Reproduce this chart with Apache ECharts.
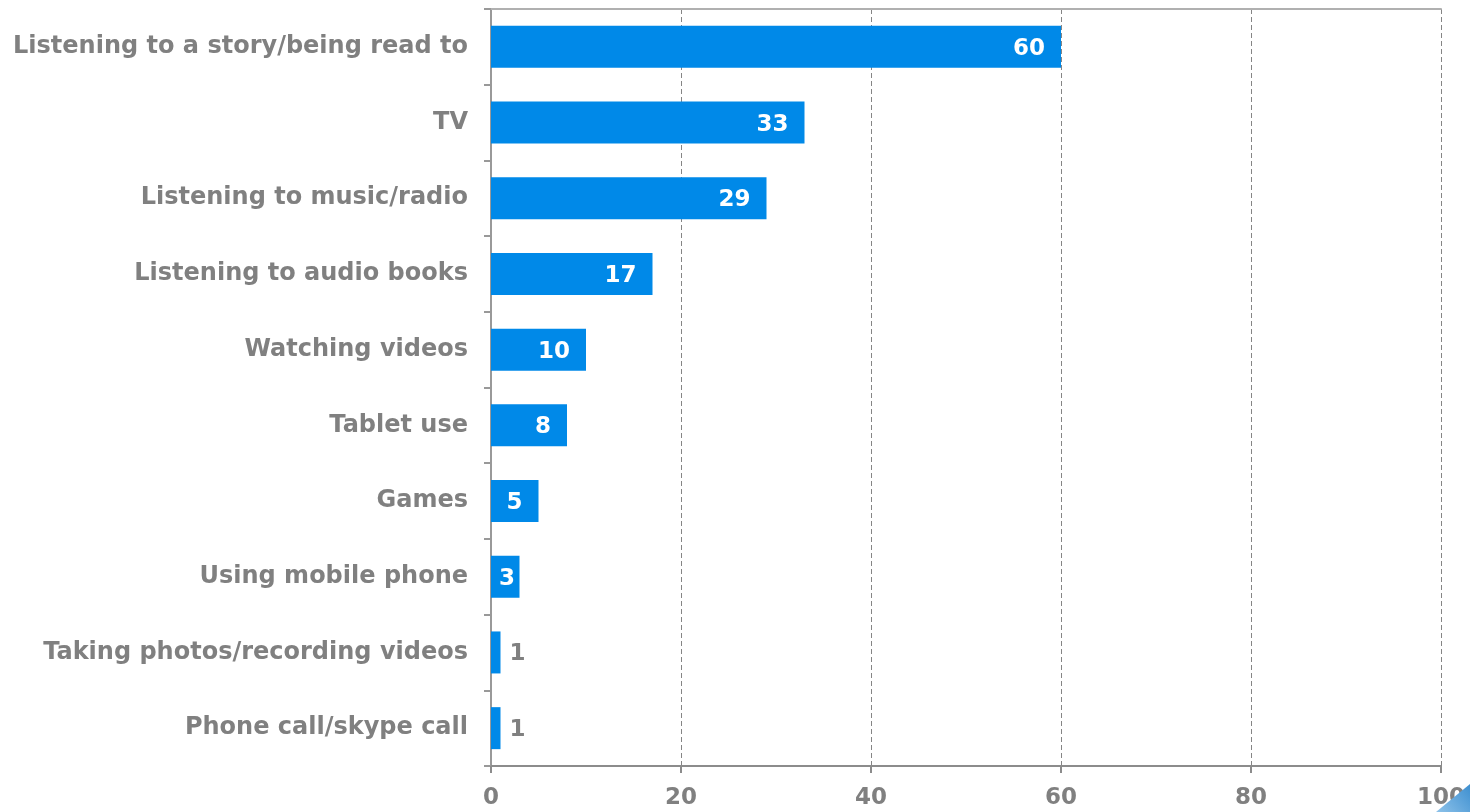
<!DOCTYPE html>
<html>
<head>
<meta charset="utf-8">
<style>
  html, body { margin: 0; padding: 0; background: #ffffff; }
  #chart { width: 1470px; height: 812px; }
</style>
<script src="https://cdn.jsdelivr.net/npm/echarts@6/dist/echarts.min.js"></script>
</head>
<body>
<div id="chart"></div>
<script>
// Activities, top to bottom
const categories = [
  'Listening to a story/being read to',
  'TV',
  'Listening to music/radio',
  'Listening to audio books',
  'Watching videos',
  'Tablet use',
  'Games',
  'Using mobile phone',
  'Taking photos/recording videos',
  'Phone call/skype call'
];
const values = [60, 33, 29, 17, 10, 8, 5, 3, 1, 1];
const xTicks = [0, 20, 40, 60, 80, 100];

const FONT = 'DejaVu Sans, Verdana, sans-serif';
const GREY = '#808080';
const BLUE = '#0089E8';

// Label placement: inside the bar end when the bar is wide enough, otherwise outside
const seriesData = values.map(function (v) {
  if (v <= 1) {
    return { value: v, label: { position: 'right', distance: 9, color: GREY } };
  }
  if (v <= 3) {
    return { value: v, label: { position: 'insideLeft', distance: 8, color: '#ffffff' } };
  }
  return { value: v };
});

const chart = echarts.init(document.getElementById('chart'), null, { renderer: 'canvas' });
chart.setOption({
  animation: false,
  backgroundColor: '#ffffff',
  grid: { left: 491, right: 29, top: 9, bottom: 46, containLabel: false },
  xAxis: [
    {
      type: 'value',
      min: xTicks[0],
      max: xTicks[xTicks.length - 1],
      interval: 20,
      position: 'bottom',
      axisLine: { show: true, lineStyle: { color: '#8c8c8c', width: 2 } },
      axisTick: { show: true, length: 7, lineStyle: { color: '#8c8c8c', width: 2 } },
      axisLabel: {
        color: GREY, fontFamily: FONT, fontWeight: 'bold', fontSize: 23, margin: 21
      },
      splitLine: { show: true, lineStyle: { color: '#858585', type: [5, 3], width: 1 } }
    },
    {
      type: 'value',
      min: 0, max: 100,
      position: 'top',
      axisLine: { show: true, lineStyle: { color: '#b0b0b0', width: 2 } },
      axisTick: { show: false },
      axisLabel: { show: false },
      splitLine: { show: false }
    }
  ],
  yAxis: {
    type: 'category',
    inverse: true,
    data: categories,
    axisLine: { show: true, lineStyle: { color: '#999999', width: 2 } },
    axisTick: { show: true, length: 7, lineStyle: { color: '#999999', width: 2 } },
    axisLabel: {
      color: GREY, fontFamily: FONT, fontWeight: 'bold', fontSize: 24, margin: 23,
      padding: [4, 0, 0, 0]
    },
    splitLine: { show: false }
  },
  series: [{
    type: 'bar',
    xAxisIndex: 0,
    data: seriesData,
    barWidth: 42,
    itemStyle: { color: BLUE },
    label: {
      show: true,
      position: 'insideRight',
      distance: 16,
      offset: [0, 2],
      color: '#ffffff',
      fontFamily: FONT,
      fontWeight: 'bold',
      fontSize: 23
    }
  }],
  graphic: [{
    type: 'polygon',
    z: 100,
    shape: { points: [[1436, 812], [1470, 812], [1470, 784]] },
    style: {
      fill: new echarts.graphic.LinearGradient(0, 1, 1, 0, [
        { offset: 0, color: '#8fc3ea' },
        { offset: 1, color: '#3d8fd0' }
      ])
    }
  }]
});
</script>
</body>
</html>
